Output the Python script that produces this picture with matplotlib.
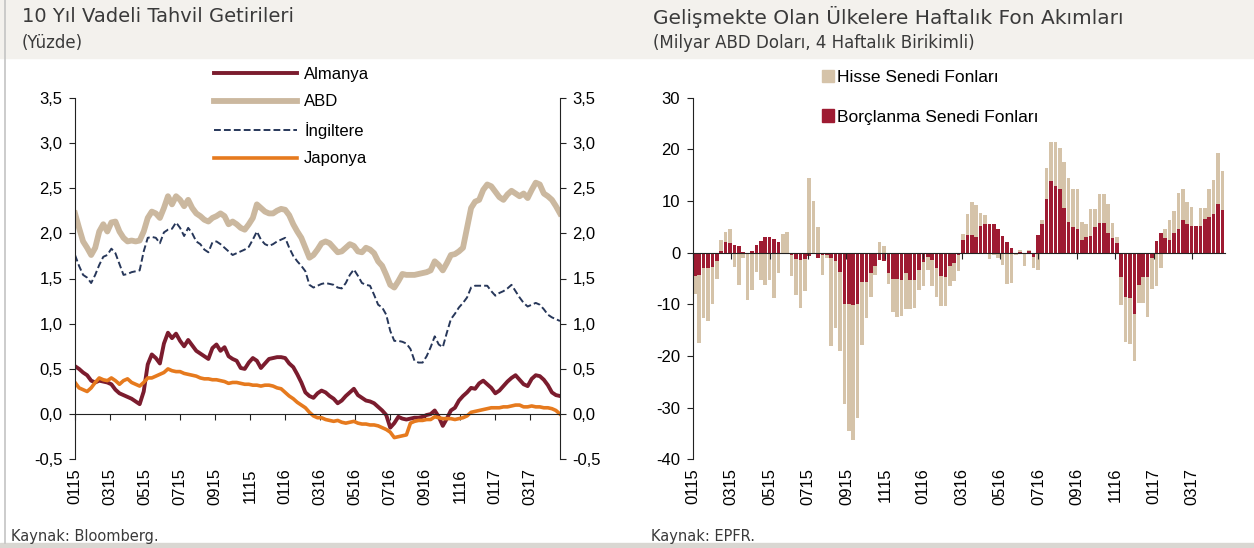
import numpy as np
import matplotlib.pyplot as plt
from matplotlib.patches import Rectangle, Patch
from matplotlib.lines import Line2D

plt.rcParams['font.family'] = ['Liberation Sans', 'DejaVu Sans']
plt.rcParams['axes.unicode_minus'] = False

# weekly 10y yields, Jan 2015 - Apr 2017 (percent)
almanya = [
    0.53, 0.50, 0.46, 0.43, 0.37, 0.35, 0.37, 0.36, 0.35, 0.33,
    0.27, 0.23, 0.21, 0.19, 0.17, 0.14, 0.11, 0.25, 0.55, 0.66,
    0.62, 0.56, 0.78, 0.90, 0.84, 0.89, 0.81, 0.75, 0.82, 0.76,
    0.70, 0.67, 0.64, 0.61, 0.73, 0.77, 0.70, 0.74, 0.64, 0.61,
    0.59, 0.51, 0.50, 0.57, 0.62, 0.59, 0.51, 0.56, 0.61, 0.62,
    0.63, 0.63, 0.62, 0.56, 0.52, 0.44, 0.35, 0.24, 0.20, 0.18,
    0.23, 0.26, 0.24, 0.20, 0.17, 0.12, 0.15, 0.20, 0.24, 0.28,
    0.21, 0.18, 0.15, 0.14, 0.12, 0.08, 0.04, -0.01, -0.15, -0.10,
    -0.03, -0.05, -0.06, -0.05, -0.04, -0.04, -0.03, -0.01, 0.00, 0.04,
    -0.03, -0.13, -0.05, 0.04, 0.07, 0.15, 0.20, 0.24, 0.29, 0.28,
    0.34, 0.37, 0.33, 0.29, 0.23, 0.26, 0.31, 0.36, 0.40, 0.43,
    0.38, 0.33, 0.31, 0.39, 0.43, 0.42, 0.38, 0.32, 0.24, 0.21,
    0.20,
]
abd = [
    2.22, 2.06, 1.91, 1.84, 1.76, 1.84, 2.02, 2.10, 2.02, 2.12,
    2.13, 2.02, 1.95, 1.91, 1.92, 1.91, 1.92, 2.02, 2.17, 2.24,
    2.22, 2.17, 2.28, 2.41, 2.32, 2.41, 2.37, 2.30, 2.37, 2.28,
    2.22, 2.19, 2.15, 2.13, 2.17, 2.19, 2.22, 2.19, 2.10, 2.13,
    2.10, 2.06, 2.04, 2.10, 2.17, 2.32, 2.28, 2.24, 2.22, 2.22,
    2.25, 2.27, 2.26, 2.20, 2.10, 2.02, 1.95, 1.84, 1.73, 1.76,
    1.82, 1.89, 1.91, 1.89, 1.84, 1.79, 1.80, 1.84, 1.88, 1.86,
    1.80, 1.79, 1.84, 1.82, 1.78, 1.69, 1.64, 1.54, 1.43, 1.40,
    1.47, 1.55, 1.54, 1.54, 1.54, 1.55, 1.56, 1.57, 1.59, 1.69,
    1.65, 1.59, 1.67, 1.76, 1.77, 1.80, 1.84, 2.06, 2.28, 2.35,
    2.37, 2.48, 2.54, 2.52, 2.46, 2.40, 2.37, 2.43, 2.47, 2.44,
    2.41, 2.44, 2.39, 2.48, 2.56, 2.54, 2.44, 2.41, 2.37, 2.30,
    2.22,
]
ingiltere = [
    1.76, 1.64, 1.54, 1.51, 1.45, 1.54, 1.65, 1.74, 1.76, 1.83,
    1.78, 1.66, 1.54, 1.55, 1.57, 1.58, 1.59, 1.80, 1.95, 1.96,
    1.95, 1.89, 2.01, 2.04, 2.05, 2.12, 2.06, 1.97, 2.06, 2.00,
    1.91, 1.88, 1.82, 1.79, 1.90, 1.91, 1.88, 1.84, 1.80, 1.76,
    1.78, 1.80, 1.82, 1.85, 1.93, 2.02, 1.93, 1.88, 1.86, 1.88,
    1.91, 1.93, 1.95, 1.84, 1.75, 1.69, 1.64, 1.58, 1.43, 1.40,
    1.42, 1.44, 1.45, 1.44, 1.43, 1.40, 1.39, 1.45, 1.54, 1.60,
    1.53, 1.45, 1.43, 1.42, 1.32, 1.21, 1.18, 1.10, 0.92, 0.81,
    0.81, 0.80, 0.78, 0.72, 0.59, 0.57, 0.57, 0.64, 0.74, 0.86,
    0.77, 0.74, 0.90, 1.05, 1.11, 1.18, 1.23, 1.29, 1.40, 1.42,
    1.42, 1.42, 1.42, 1.36, 1.31, 1.34, 1.36, 1.39, 1.43, 1.36,
    1.29, 1.23, 1.19, 1.21, 1.23, 1.21, 1.16, 1.10, 1.07, 1.05,
    1.03,
]
japonya = [
    0.35, 0.29, 0.27, 0.25, 0.29, 0.35, 0.40, 0.38, 0.37, 0.40,
    0.37, 0.33, 0.37, 0.39, 0.35, 0.33, 0.31, 0.35, 0.40, 0.40,
    0.42, 0.44, 0.46, 0.50, 0.48, 0.47, 0.47, 0.45, 0.44, 0.43,
    0.42, 0.40, 0.39, 0.39, 0.38, 0.38, 0.37, 0.36, 0.34, 0.35,
    0.35, 0.34, 0.33, 0.33, 0.32, 0.32, 0.31, 0.32, 0.32, 0.31,
    0.29, 0.28, 0.24, 0.20, 0.17, 0.13, 0.10, 0.07, 0.02, -0.02,
    -0.04, -0.04, -0.06, -0.07, -0.08, -0.07, -0.09, -0.10, -0.09, -0.08,
    -0.10, -0.11, -0.11, -0.12, -0.12, -0.13, -0.15, -0.17, -0.20, -0.26,
    -0.25, -0.24, -0.23, -0.10, -0.08, -0.07, -0.07, -0.06, -0.06, -0.03,
    -0.04, -0.05, -0.05, -0.05, -0.06, -0.05, -0.04, -0.02, 0.02, 0.03,
    0.04, 0.05, 0.06, 0.07, 0.07, 0.07, 0.08, 0.08, 0.09, 0.10,
    0.10, 0.08, 0.08, 0.09, 0.08, 0.08, 0.07, 0.07, 0.06, 0.04,
    0.00,
]

# 4-week cumulative flows (bn USD)
hisse = [
    -3.4, -13.2, -9.7, -10.3, -7.3, -3.3, 2.2, 1.9, 2.8, -2.7,
    -6.3, -1.1, -9.2, -7.2, -3.7, -5.3, -6.3, -5.3, -8.8, -4.0,
    3.6, 4.0, -4.1, -7.0, -9.3, -6.2, 14.5, 10.0, 5.0, -3.9,
    -0.5, -16.9, -13.0, -15.3, -19.3, -24.5, -26.1, -22.0, -12.2, -7.1,
    -4.5, -1.8, 2.0, 1.3, -2.0, -6.5, -7.4, -7.1, -7.0, -5.7,
    -5.5, -4.0, -4.7, -2.5, -5.0, -5.5, -5.8, -5.7, -3.9, -3.5,
    -3.0, 1.1, 4.1, 6.4, 6.3, 2.6, 1.8, -1.2, -0.5, -1.0,
    -2.3, -6.0, -5.8, -0.2, 0.4, -2.5, 0.3, -2.2, -3.3, 0.7,
    5.9, 7.7, 8.5, 7.9, 9.0, 8.5, 7.5, 7.8, 3.5, 2.4,
    5.2, 3.6, 5.6, 5.6, 5.7, 2.9, 1.1, -5.5, -8.7, -8.8,
    -9.2, -3.6, -5.1, -7.8, -6.0, -6.5, -3.0, 1.6, 3.8, 4.2,
    7.1, 6.1, 4.3, 3.7, -0.3, 3.5, 2.1, 5.4, 6.6, 9.8,
    7.5,
]
borc = [
    -4.6, -4.3, -3.0, -2.9, -2.7, -1.7, 0.3, 2.1, 1.8, 1.4,
    1.3, 0.1, 0.0, 0.3, 1.5, 2.2, 3.0, 3.0, 2.6, 2.1,
    0.0, 0.0, -0.5, -1.2, -1.5, -1.3, -0.6, -0.3, -1.1, -0.4,
    -0.5, -1.1, -1.6, -3.7, -10.0, -10.0, -10.2, -10.0, -5.7, -5.6,
    -4.0, -2.5, -1.5, -1.6, -4.0, -5.0, -5.0, -5.2, -4.0, -5.3,
    -5.3, -3.3, -1.8, -0.8, -1.5, -3.0, -4.5, -4.7, -2.6, -2.0,
    -0.5, 2.5, 3.4, 3.4, 3.0, 5.1, 5.5, 5.5, 5.5, 4.5,
    3.2, 2.0, 1.0, -0.3, 0.2, 0.0, 0.3, -0.8, 3.4, 5.6,
    10.4, 13.8, 13.0, 12.3, 8.6, 6.0, 4.9, 4.6, 2.5, 3.1,
    3.3, 4.9, 5.7, 5.8, 3.8, 2.9, 1.9, -4.7, -8.5, -8.8,
    -11.8, -6.2, -4.7, -4.7, -1.0, 2.2, 3.8, 2.9, 2.5, 3.8,
    4.5, 6.3, 5.5, 5.1, 5.1, 5.1, 6.5, 7.0, 7.4, 9.4,
    8.3,
]

months = ['0115', '0315', '0515', '0715', '0915', '1115', '0116',
          '0316', '0516', '0716', '0916', '1116', '0117', '0317']

W, H = 1254, 548
fig = plt.figure(figsize=(W / 100, H / 100), dpi=100)
fig.patch.set_facecolor('white')

# header band, frame bits
fig.add_artist(Rectangle((0, 1 - 58 / H), 1, 58 / H, transform=fig.transFigure,
                         color='#f3f1ed', zorder=0))
fig.add_artist(Rectangle((0, 0), 1, 5 / H, transform=fig.transFigure,
                         color='#d9d7d2', zorder=0))
fig.add_artist(Line2D([5 / W, 5 / W], [5 / H, 1], transform=fig.transFigure,
                      color='#c4c4c4', lw=1.2))

ax_bottom = 1 - 459.3 / H
ax_height = (459.3 - 97.7) / H
ax1 = fig.add_axes([75 / W, ax_bottom, 485 / W, ax_height])
ax2 = fig.add_axes([692.7 / W, ax_bottom, 531.9 / W, ax_height])
for ax in (ax1, ax2):
    ax.set_facecolor('none')

# ---- left: bond yields
x = np.arange(len(almanya))
ax1.plot(x, almanya, color='#7b1c2e', lw=2.8, label='Almanya')
ax1.plot(x, abd, color='#cbb89f', lw=4.2, label='ABD')
ax1.plot(x, ingiltere, color='#27375a', lw=1.4, ls=(0, (3.5, 1.6)), label='İngiltere')
ax1.plot(x, japonya, color='#e67a1e', lw=2.6, label='Japonya')

ax1.set_xlim(0, len(x) - 1)
ax1.set_ylim(-0.5, 3.5)
yt = np.arange(-0.5, 3.51, 0.5)
ax1.set_yticks(yt, [f'{v:.1f}'.replace('.', ',') for v in yt])
ax1.spines['top'].set_visible(False)
ax1.spines['bottom'].set_position(('data', 0))
for s in ('left', 'right', 'bottom'):
    ax1.spines[s].set_color('#222222')
ax1.tick_params(axis='y', left=True, right=True, labelleft=True, labelright=True,
                length=4, labelsize=12, pad=5, color='#222222')
ax1.set_xticks(np.arange(14) * 8.66, months, rotation=90)
ax1.tick_params(axis='x', length=4, pad=35, labelsize=12, color='#222222')

ax1.legend(loc='upper left', bbox_to_anchor=(214 / W, 1 - 67 / H),
           bbox_transform=fig.transFigure, frameon=False, fontsize=12,
           handlelength=5.0, handletextpad=0.4, labelspacing=0.75,
           borderpad=0, borderaxespad=0)

# ---- right: fund flows
idx = np.arange(len(hisse))
tan, red = '#d5c3a9', '#9e1b32'
eq_bottom = np.where(np.sign(hisse) == np.sign(borc), borc, 0)
ax2.bar(idx, borc, width=0.82, color=red)
ax2.bar(idx, hisse, bottom=eq_bottom, width=0.82, color=tan)

ax2.set_xlim(-0.5, len(idx) - 0.5)
ax2.set_ylim(-40, 30)
ax2.set_yticks(range(-40, 31, 10))
ax2.spines['top'].set_visible(False)
ax2.spines['right'].set_visible(False)
ax2.spines['bottom'].set_position(('data', 0))
for s in ('left', 'bottom'):
    ax2.spines[s].set_color('#222222')
ax2.tick_params(axis='y', length=4, labelsize=12, pad=5, color='#222222')
ax2.set_xticks(-0.5 + np.arange(14) * 8.74, months, rotation=90)
ax2.tick_params(axis='x', length=4, pad=151, labelsize=12, color='#222222')

ax2.legend(handles=[Patch(color=tan), Patch(color=red)],
           labels=['Hisse Senedi Fonları', 'Borçlanma Senedi Fonları'],
           loc='upper left', bbox_to_anchor=(822 / W, 1 - 70 / H),
           bbox_transform=fig.transFigure, frameon=False, fontsize=12.5,
           handlelength=0.7, handleheight=0.7, handletextpad=0.15,
           labelspacing=1.4, borderpad=0, borderaxespad=0)

# ---- titles and sources
tfont = dict(family='DejaVu Sans', color='#3a3a3a')
fig.text(22 / W, 1 - 17 / H, '10 Yıl Vadeli Tahvil Getirileri', fontsize=14,
         va='center', **tfont)
fig.text(22 / W, 1 - 43 / H, '(Yüzde)', fontsize=12, va='center', **tfont)
fig.text(653 / W, 1 - 17 / H, 'Gelişmekte Olan Ülkelere Haftalık Fon Akımları',
         fontsize=14.5, va='center', **tfont)
fig.text(653 / W, 1 - 43 / H, '(Milyar ABD Doları, 4 Haftalık Birikimli)',
         fontsize=12, va='center', **tfont)
fig.text(11 / W, 1 - 537 / H, 'Kaynak: Bloomberg.', fontsize=10.5, va='center', **tfont)
fig.text(651 / W, 1 - 537 / H, 'Kaynak: EPFR.', fontsize=10.5, va='center', **tfont)

fig.savefig('out.png', dpi=100)
